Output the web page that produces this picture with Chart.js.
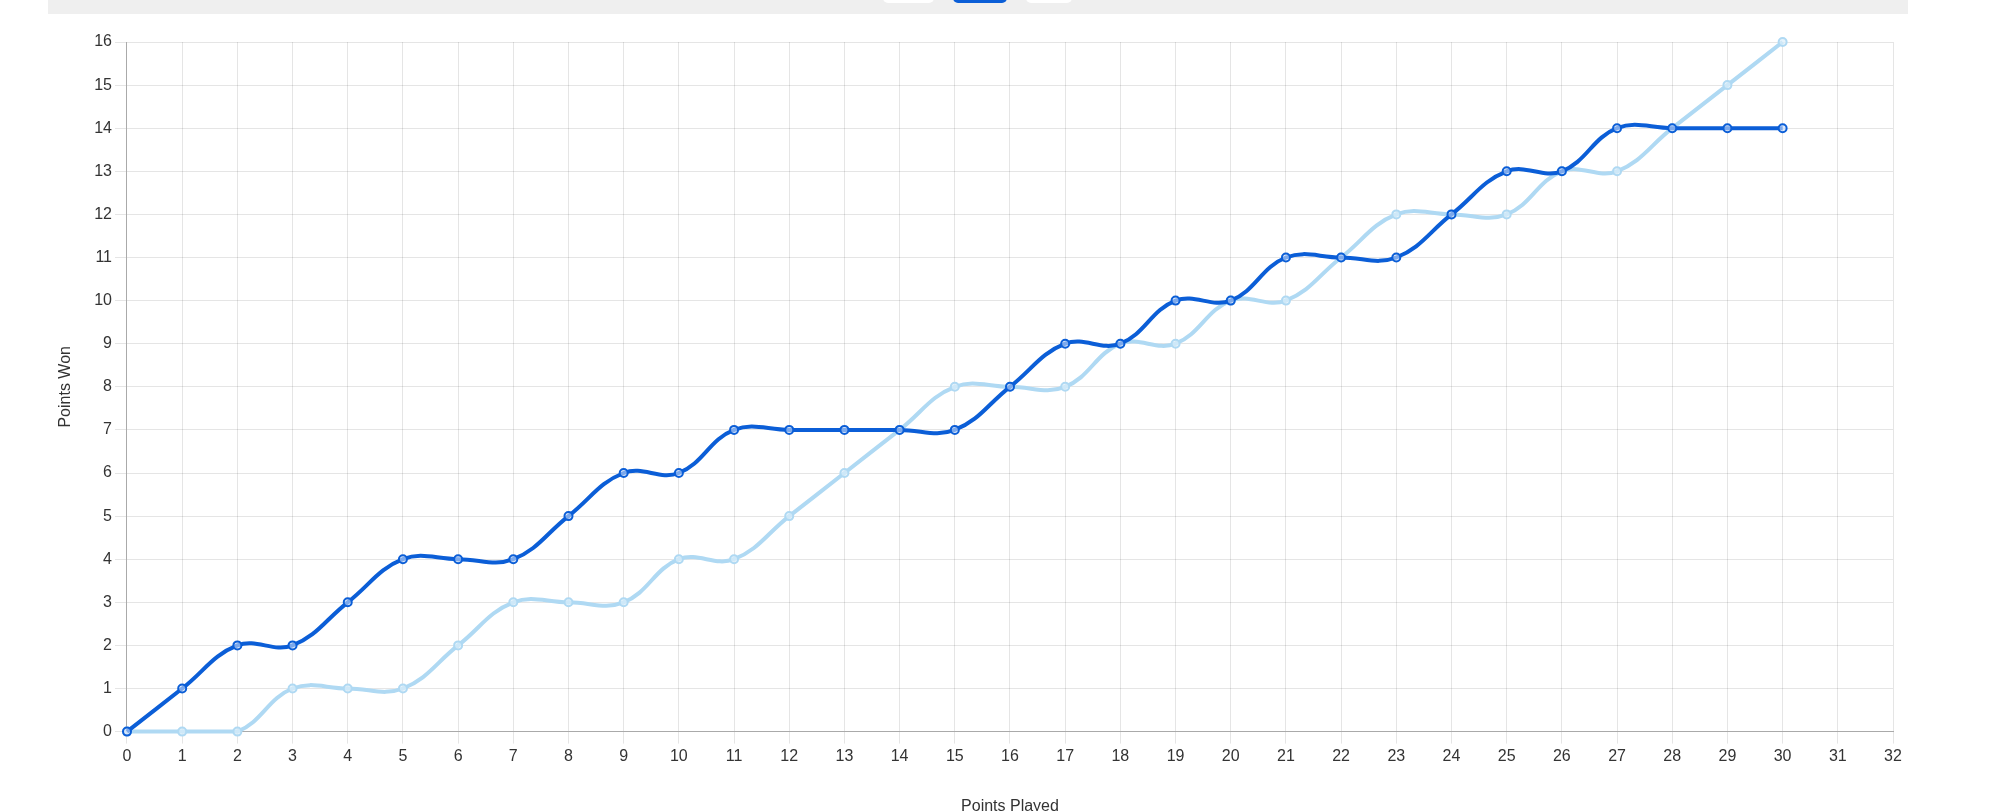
<!DOCTYPE html>
<html>
<head>
<meta charset="utf-8">
<script src="https://cdn.jsdelivr.net/npm/chart.js@4.4.0/dist/chart.umd.min.js"></script>
<style>
    html, body { margin: 0; padding: 0; overflow: hidden; background: #fff; }
    body { width: 2012px; height: 811px; position: relative; }
    #topbar { position: absolute; left: 48px; top: 0; width: 1860px; height: 14px; background: #efefef; }
    .btn { position: absolute; top: -26px; height: 29px; border-radius: 5px; background: #fff; }
    .btn.active { background: #0b5ed7; }
    #pointsChart { position: absolute; left: 48px; top: 14px; }
</style>
</head>
<body>
<div id="topbar">
    <div class="btn" style="left:835px;width:51px;"></div>
    <div class="btn active" style="left:905px;width:54px;"></div>
    <div class="btn" style="left:978px;width:46px;"></div>
</div>
<canvas id="pointsChart" width="1860" height="804"></canvas>
<script>
var pointsPlayed = [];
for (var i = 0; i <= 32; i++) {
    pointsPlayed.push(String(i));
}
var playerOneWon = [0, 1, 2, 2, 3, 4, 4, 4, 5, 6, 6, 7, 7, 7, 7, 7, 8, 9, 9, 10, 10, 11, 11, 11, 12, 13, 13, 14, 14, 14, 14];
var playerTwoWon = [0, 0, 0, 1, 1, 1, 2, 3, 3, 3, 4, 4, 5, 6, 7, 8, 8, 8, 9, 9, 10, 10, 11, 12, 12, 12, 13, 13, 14, 15, 16];

var ctx = document.getElementById("pointsChart").getContext('2d');
var myChart = new Chart(ctx, {
    type: 'line',
    data: {
        labels: pointsPlayed,
        datasets: [{
            label: 'Player 1',
            data: playerOneWon,
            borderColor: "#0b5ed7",
            backgroundColor: "rgba(11,94,215,0.15)",
            pointBackgroundColor: "rgba(200,220,250,0.6)",
            pointBorderColor: "#0b5ed7",
            borderWidth: 4,
            pointRadius: 4,
            pointBorderWidth: 2,
            tension: 0.4,
            fill: false,
            clip: false
        }, {
            label: 'Player 2',
            data: playerTwoWon,
            borderColor: "#afd9f3",
            backgroundColor: "rgba(175,217,243,0.3)",
            pointBackgroundColor: "rgba(220,238,250,0.7)",
            pointBorderColor: "#afd9f3",
            borderWidth: 4,
            pointRadius: 4,
            pointBorderWidth: 2,
            tension: 0.4,
            fill: false,
            clip: false
        }]
    },
    options: {
        responsive: false,
        animation: false,
        layout: {
            padding: { top: 28, left: 4, right: 15, bottom: 0 }
        },
        plugins: {
            legend: { display: false },
            tooltip: { enabled: false }
        },
        scales: {
            x: {
                grid: { color: 'rgba(0,0,0,0.1)', tickLength: 12 },
                border: { color: '#aaa' },
                ticks: {
                    color: '#333',
                    padding: 3,
                    maxRotation: 0,
                    autoSkip: false,
                    font: { family: 'Liberation Sans, Arial, sans-serif', size: 16 }
                },
                title: {
                    display: true,
                    text: 'Points Played',
                    color: '#333',
                    padding: { top: 28, bottom: 2 },
                    font: { family: 'Liberation Sans, Arial, sans-serif', size: 16 }
                }
            },
            y: {
                min: 0,
                max: 16,
                grid: { color: 'rgba(0,0,0,0.1)', tickLength: 12 },
                border: { color: '#aaa' },
                ticks: {
                    color: '#333',
                    padding: 3,
                    stepSize: 1,
                    font: { family: 'Liberation Sans, Arial, sans-serif', size: 16 }
                },
                title: {
                    display: true,
                    text: 'Points Won',
                    color: '#333',
                    padding: { top: 4, bottom: 16 },
                    font: { family: 'Liberation Sans, Arial, sans-serif', size: 16 }
                }
            }
        }
    }
});
</script>
</body>
</html>
